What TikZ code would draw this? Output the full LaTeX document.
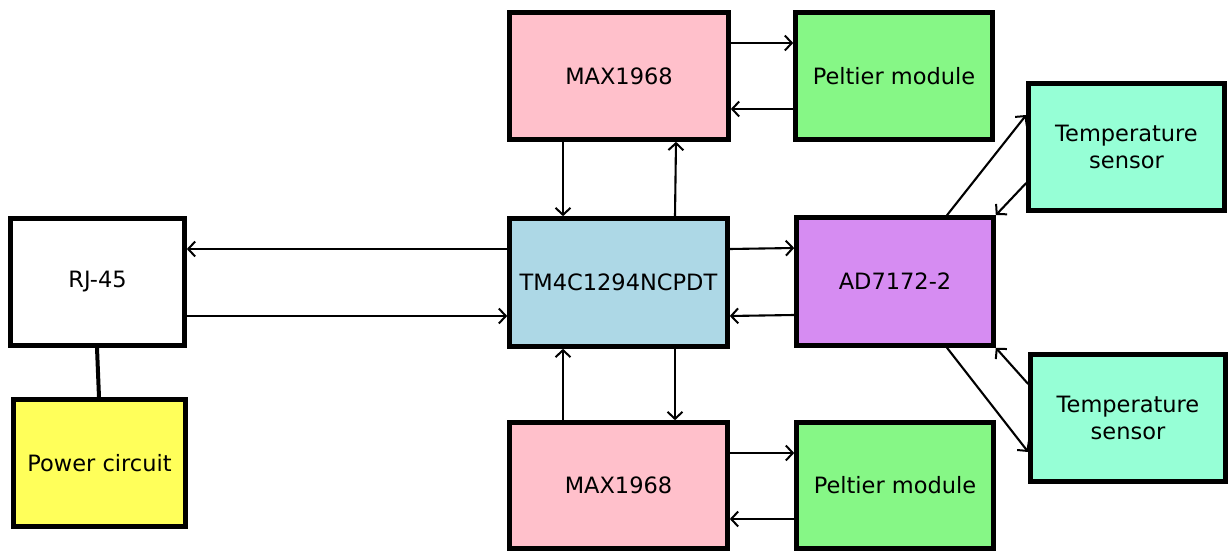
\documentclass[tikz,border=0pt]{standalone}
\usepackage{fontspec}
\setmainfont{DejaVu Sans}
\usetikzlibrary{arrows.meta}
\definecolor{cpink}{RGB}{255,192,203}
\definecolor{cgreen}{RGB}{134,247,134}
\definecolor{cpurple}{RGB}{214,140,242}
\definecolor{caqua}{RGB}{150,255,214}
\definecolor{cyellow}{RGB}{255,255,90}
\definecolor{cblue}{RGB}{173,216,230}
\begin{document}
\begin{tikzpicture}[x=1pt,y=-1pt,
  box/.style={draw=black, line width=4.6pt, rectangle, align=center, inner sep=0pt,
    font=\fontsize{22.5}{27}\selectfont},
  arr/.style={line width=2.1pt, -{Straight Barb[length=7pt,width=15pt,line width=2pt]}},
  plain/.style={line width=4pt}]
\useasboundingbox (0,0) rectangle (1229,553);
\node[box, fill=white,   minimum width=174pt, minimum height=127pt] (rj)  at (97.5,282)   {RJ-45};
\node[box, fill=cyellow, minimum width=172pt, minimum height=127pt] (pw)  at (99.5,463)   {Power circuit};
\node[box, fill=cblue,   minimum width=218pt, minimum height=128pt] (tm)  at (618.5,282.5) {TM4C1294NCPDT};
\node[box, fill=cpink,   minimum width=219pt, minimum height=127pt] (mt)  at (619,76)     {MAX1968};
\node[box, fill=cgreen,  minimum width=197pt, minimum height=127pt] (pt)  at (894,76)     {Peltier module};
\node[box, fill=cpurple, minimum width=197pt, minimum height=128pt] (ad)  at (895,281.5)  {AD7172-2};
\node[box, fill=caqua,   minimum width=196pt, minimum height=127pt] (ts1) at (1126.5,147) {Temperature\\sensor};
\node[box, fill=caqua,   minimum width=195pt, minimum height=127pt] (ts2) at (1128,418)   {Temperature\\sensor};
\node[box, fill=cpink,   minimum width=218pt, minimum height=126pt] (mb)  at (618.5,485.5) {MAX1968};
\node[box, fill=cgreen,  minimum width=197pt, minimum height=126pt] (pb)  at (895,485.5)  {Peltier module};

% RJ-45 / power
\draw[plain] (rj.south -| 97,0) -- (pw.north -| 99,0);
% RJ-45 <-> TM4C
\draw[arr] (tm.west |- 0,249) -- (rj.east |- 0,249);
\draw[arr] (rj.east |- 0,316) -- (tm.west |- 0,316);
% top MAX <-> TM4C
\draw[arr] (mt.south -| 563,0) -- (tm.north -| 563,0);
\draw[arr] (tm.north -| 675,0) -- (mt.south -| 676,0);
% top MAX <-> Peltier
\draw[arr] (mt.east |- 0,43) -- (pt.west |- 0,43);
\draw[arr] (pt.west |- 0,109) -- (mt.east |- 0,109);
% TM4C <-> AD
\draw[arr] (tm.east |- 0,249) -- (ad.west |- 0,248);
\draw[arr] (ad.west |- 0,315) -- (tm.east |- 0,316);
% AD <-> sensors
\draw[arr] (ad.north -| 947,0) -- (ts1.west |- 0,115);
\draw[arr] (ts1.west |- 0,183) -- (ad.north east);
\draw[arr] (ts2.west |- 0,384) -- (ad.south east);
\draw[arr] (ad.south -| 947,0) -- (ts2.west |- 0,452);
% bottom MAX <-> TM4C
\draw[arr] (tm.south -| 675,0) -- (mb.north -| 675,0);
\draw[arr] (mb.north -| 563,0) -- (tm.south -| 563,0);
% bottom MAX <-> Peltier
\draw[arr] (mb.east |- 0,453) -- (pb.west |- 0,453);
\draw[arr] (pb.west |- 0,519) -- (mb.east |- 0,519);
\end{tikzpicture}
\end{document}
